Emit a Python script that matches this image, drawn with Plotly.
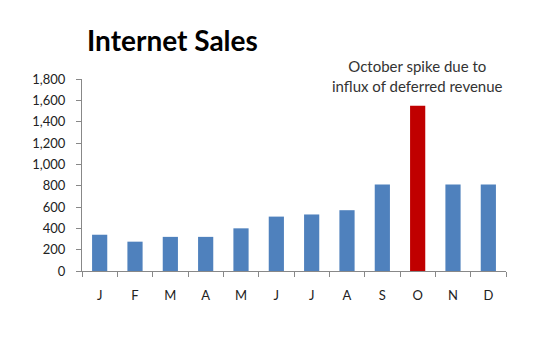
import plotly.graph_objects as go

months = ["J", "F", "M", "A", "M", "J", "J", "A", "S", "O", "N", "D"]
sales = [340, 275, 320, 320, 400, 510, 530, 570, 810, 1550, 810, 810]
bar_colors = ["#4F81BD"] * 9 + ["#C00000"] + ["#4F81BD"] * 2
y_ticks = [0, 200, 400, 600, 800, 1000, 1200, 1400, 1600, 1800]
y_labels = [f"{v:,}" for v in y_ticks]

x_idx = [str(i) for i in range(len(months))]

fig = go.Figure(go.Bar(
    x=x_idx, y=sales, marker=dict(color=bar_colors, line=dict(width=0)),
    width=0.43,
))

fig.update_layout(
    width=535, height=338,
    margin=dict(l=82, r=29, t=79, b=67),
    paper_bgcolor="white", plot_bgcolor="white",
    showlegend=False,
    font=dict(family="Lato, 'Open Sans', sans-serif", size=13, color="#222"),
    title=dict(text="<b>Internet Sales</b>", x=87/535, xanchor="left",
               y=1 - 41/338, yanchor="middle",
               font=dict(family="Lato, 'Open Sans', sans-serif", size=28, color="black")),
    annotations=[dict(
        text="October spike due to<br>influx of deferred revenue",
        x=9, y=1630, xref="x", yref="y", xanchor="center", yanchor="bottom",
        showarrow=False, align="center",
        font=dict(size=15, color="#333"),
    )],
)
fig.update_xaxes(
    type="category", tickmode="array", tickvals=x_idx, ticktext=months,
    tickson="boundaries",
    showline=True, linecolor="#888", linewidth=1,
    ticks="outside", ticklen=5, tickcolor="#888",
    ticklabelstandoff=12,
    showgrid=False, zeroline=False, fixedrange=True,
)
fig.update_yaxes(
    range=[0, 1800], tickmode="array", tickvals=y_ticks, ticktext=y_labels,
    showline=True, linecolor="#888", linewidth=1,
    ticks="outside", ticklen=5, tickcolor="#888",
    ticklabelstandoff=8,
    showgrid=False, zeroline=False,
)
fig.write_html("out.html")
